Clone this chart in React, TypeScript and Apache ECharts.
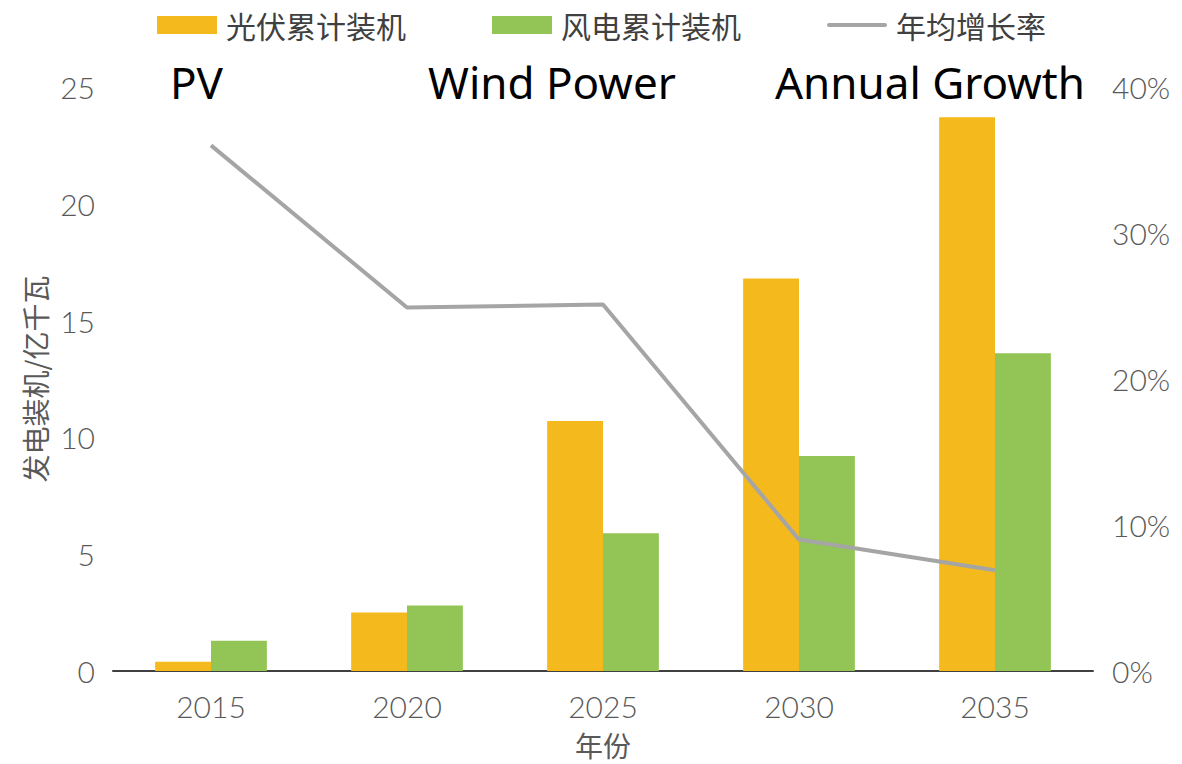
import React, { useEffect, useRef } from "react";
import * as echarts from "echarts";

const years = ["2015", "2020", "2025", "2030", "2035"];
const pvValues = [0.4, 2.5, 10.7, 16.8, 23.7];
const windValues = [1.3, 2.8, 5.9, 9.2, 13.6];
const growthValues = [36, 24.9, 25.1, 9.0, 6.9];
const seriesNames = ["光伏累计装机", "风电累计装机", "年均增长率"];
const annotations = ["PV", "Wind Power", "Annual Growth"];

export default function App() {
  const ref = useRef<HTMLDivElement>(null);
  useEffect(() => {
    const chart = echarts.init(ref.current!, null, { renderer: "svg" });
    const labelFont = { fontFamily: "Lato", fontWeight: 300 as any, color: "#595959", fontSize: 30 };
    chart.setOption({
      animation: false,
      legend: {
        left: 152,
        top: 5,
        itemWidth: 60,
        itemHeight: 18,
        itemGap: 86,
        textStyle: { fontFamily: "Noto Sans CJK SC", fontSize: 30, color: "#404040", padding: [0, 0, 0, 4] },
        data: [
          { name: seriesNames[0], icon: "rect" },
          { name: seriesNames[1], icon: "rect" },
          { name: seriesNames[2], icon: "path://M0,0 M2,7h56a2,2 0 0 1 0,4h-56a2,2 0 0 1 0,-4z M60,18" },
        ],
      },
      graphic: [
        { type: "text", left: 170, top: 60, style: { text: annotations[0], fontFamily: "Noto Sans", fontSize: 44, fill: "#000" } },
        { type: "text", left: 428, top: 60, style: { text: annotations[1], fontFamily: "Noto Sans", fontSize: 44, fill: "#000" } },
        { type: "text", left: 775, top: 60, style: { text: annotations[2], fontFamily: "Noto Sans", fontSize: 44, fill: "#000" } },
      ],
      grid: { left: 113, right: 89, top: 87, bottom: 90 },
      xAxis: {
        type: "category",
        data: years,
        name: "年份",
        nameLocation: "middle",
        nameGap: 60,
        nameTextStyle: { fontFamily: "Noto Sans CJK SC", fontSize: 28, color: "#595959" },
        axisLine: { lineStyle: { color: "#404040", width: 2 } },
        axisTick: { show: false },
        axisLabel: { ...labelFont, margin: 20 },
      },
      yAxis: [
        {
          type: "value",
          min: 0,
          max: 25,
          interval: 5,
          name: "发电装机/亿千瓦",
          nameLocation: "middle",
          nameGap: 64,
          nameRotate: 90,
          nameTextStyle: { fontFamily: "Noto Sans CJK SC", fontSize: 28, color: "#595959" },
          axisLine: { show: false },
          axisTick: { show: false },
          splitLine: { show: false },
          axisLabel: { ...labelFont, margin: 18 },
        },
        {
          type: "value",
          min: 0,
          max: 40,
          interval: 10,
          axisLine: { show: false },
          axisTick: { show: false },
          splitLine: { show: false },
          axisLabel: { ...labelFont, margin: 19, formatter: "{value}%" },
        },
      ],
      series: [
        {
          name: seriesNames[0],
          type: "bar",
          data: pvValues,
          barGap: "0%",
          barCategoryGap: "43%",
          itemStyle: { color: "#F4BA1D" },
        },
        {
          name: seriesNames[1],
          type: "bar",
          data: windValues,
          itemStyle: { color: "#92C555" },
        },
        {
          name: seriesNames[2],
          type: "line",
          yAxisIndex: 1,
          data: growthValues,
          symbol: "none",
          lineStyle: { color: "#A5A5A5", width: 4 },
          itemStyle: { color: "#A5A5A5" },
        },
      ],
    });
    return () => chart.dispose();
  }, []);
  return <div ref={ref} style={{ width: 1182, height: 764, position: "absolute", left: 0, top: 0 }} />;
}
